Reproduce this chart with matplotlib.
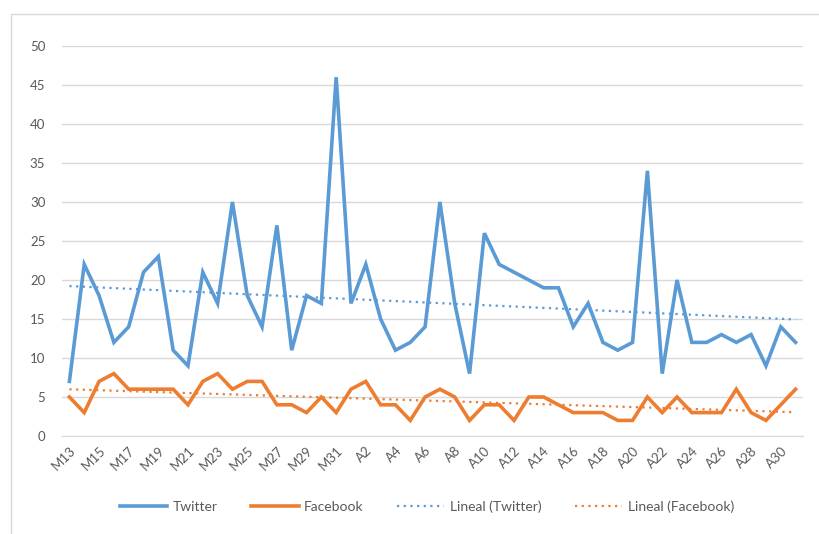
import numpy as np
import matplotlib
matplotlib.use("Agg")
import matplotlib.pyplot as plt
from matplotlib.patches import Rectangle
from matplotlib.lines import Line2D

categories = [f"M{d}" for d in range(13, 32)] + [f"A{d}" for d in range(1, 32)]
twitter = [7, 22, 18, 12, 14, 21, 23, 11, 9, 21, 17, 30, 18, 14, 27, 11, 18, 17, 46,
           17, 22, 15, 11, 12, 14, 30, 17, 8, 26, 22, 21, 20, 19, 19, 14, 17, 12, 11, 12,
           34, 8, 20, 12, 12, 13, 12, 13, 9, 14, 12]
facebook = [5, 3, 7, 8, 6, 6, 6, 6, 4, 7, 8, 6, 7, 7, 4, 4, 3, 5, 3,
            6, 7, 4, 4, 2, 5, 6, 5, 2, 4, 4, 2, 5, 5, 4, 3, 3, 3, 2, 2,
            5, 3, 5, 3, 3, 3, 6, 3, 2, 4, 6]
yticks = [0, 5, 10, 15, 20, 25, 30, 35, 40, 45, 50]

blue = "#5B9BD5"
orange = "#ED7D31"
grid = "#D9D9D9"
txt = "#595959"

plt.rcParams['font.family'] = ['Lato', 'DejaVu Sans']

W, H = 819, 534
fig = plt.figure(figsize=(W / 100, H / 100), dpi=100)
fig.patches.append(Rectangle((11 / W, -0.1), 1.2, 1 - 14 / H + 0.1, transform=fig.transFigure,
                             fill=False, edgecolor=grid, linewidth=1.0))

ax = fig.add_axes([62 / W, 1 - 436 / H, (803 - 62) / W, (436 - 46) / H])
x = np.arange(len(categories))

ax.plot(x, twitter, color=blue, lw=2.6, solid_joinstyle='miter', zorder=3)
ax.plot(x, facebook, color=orange, lw=2.6, solid_joinstyle='miter', zorder=3)

pt = np.polyfit(x, twitter, 1)
pf = np.polyfit(x, facebook, 1)
ax.plot(x, np.polyval(pt, x), color=blue, lw=1.6, linestyle=(0, (1, 2)), zorder=2)
ax.plot(x, np.polyval(pf, x), color=orange, lw=1.6, linestyle=(0, (1, 2)), zorder=2)

ax.set_xlim(-0.5, len(categories) - 0.5)
ax.set_ylim(0, 50)
ax.set_yticks(yticks)
ax.set_yticklabels([str(v) for v in yticks])
ax.yaxis.grid(True, color=grid, lw=1.0)
ax.set_axisbelow(True)
for s in ['top', 'right', 'left']:
    ax.spines[s].set_visible(False)
ax.spines['bottom'].set_color(grid)
ax.tick_params(axis='y', length=0, pad=12, labelcolor=txt, labelsize=9.5)
ax.set_xticks(x[::2])
ax.set_xticklabels(categories[::2], rotation=45, ha='right', rotation_mode='anchor')
ax.tick_params(axis='x', length=0, pad=6, labelcolor=txt, labelsize=9.5)

handles = [Line2D([], [], color=blue, lw=2.6),
           Line2D([], [], color=orange, lw=2.6),
           Line2D([], [], color=blue, lw=1.6, linestyle=(0, (1, 2))),
           Line2D([], [], color=orange, lw=1.6, linestyle=(0, (1, 2)))]
labels = ["Twitter", "Facebook", "Lineal (Twitter)", "Lineal (Facebook)"]
leg = fig.legend(handles, labels, loc='center', bbox_to_anchor=(427 / W, 1 - 507 / H), ncol=4,
                 frameon=False, fontsize=10, handlelength=3.4, handletextpad=0.4,
                 columnspacing=2.4, labelcolor=txt)

fig.savefig("out.png", dpi=100)
